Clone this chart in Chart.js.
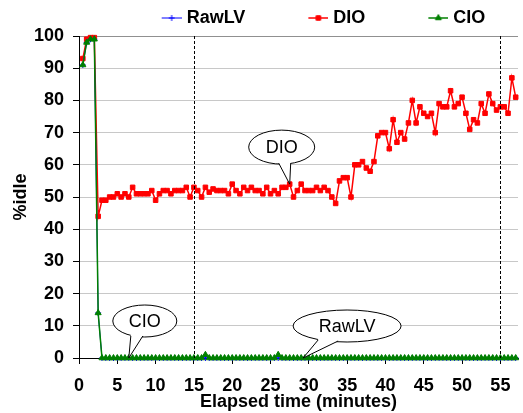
<!DOCTYPE html>
<html><head><meta charset="utf-8">
<script src="https://cdn.jsdelivr.net/npm/chart.js@4.4.1/dist/chart.umd.min.js"></script>
<style>html,body{margin:0;padding:0;background:#fff;}canvas{display:block}</style>
</head><body>
<canvas id="c" width="523" height="413"></canvas>
<script>
// ---- data ----
const elapsed = [0.5,1,1.5,2,2.5,
 3,3.5,4,4.5,5,5.5,6,6.5,7,7.5,
 8,8.5,9,9.5,10,10.5,11,11.5,12,12.5,
 13,13.5,14,14.5,15,15.5,16,16.5,17,17.5,
 18,18.5,19,19.5,20,20.5,21,21.5,22,22.5,
 23,23.5,24,24.5,25,25.5,26,26.5,27,27.5,
 28,28.5,29,29.5,30,30.5,31,31.5,32,32.5,
 33,33.5,34,34.5,35,35.5,36,36.5,37,37.5,
 38,38.5,39,39.5,40,40.5,41,41.5,42,42.5,
 43,43.5,44,44.5,45,45.5,46,46.5,47,47.5,
 48,48.5,49,49.5,50,50.5,51,51.5,52,52.5,
 53,53.5,54,54.5,55,55.5,56,56.5,57];
const rawLV = [91,98,99,99,14,
 0,0,0,0,0,0,0,0,0,0,
 0,0,0,0,0,0,0,0,0,0,
 0,0,0,0,0,0,0,0,0,0,
 0,0,0,0,0,0,0,0,0,0,
 0,0,0,0,0,0,0,0,0,0,
 0,0,0,0,0,0,0,0,0,0,
 0,0,0,0,0,0,0,0,0,0,
 0,0,0,0,0,0,0,0,0,0,
 0,0,0,0,0,0,0,0,0,0,
 0,0,0,0,0,0,0,0,0,0,
 0,0,0,0,0,0,0,0,0];
const dio = [93,99,99.5,99.5,44,
 49,49,50,50,51,50,51,50,53,51,
 51,51,51,52,49,51,52,52,51,52,
 52,52,53,50,53,52,50,53,51.5,52.5,
 52,52,52,51,54,52,51,53,52,53,
 52,52,51,53,51,52,51,53,53,54,
 50,52,54,52,52,52,53,52,53,52,
 50,48,55,56,56,50,60,60,61,59,
 58,61,69,70,70,65,74,67,70,68,
 73,80,73,78,76,75,76,70,79,78,
 78,83,78,79,81,76,71,74,73,79,
 76,82,79,77,78,78,76,87,81];
const cio = [91,98,99,99,14,
 0,0,0,0,0,0,0,0,0,0,
 0,0,0,0,0,0,0,0,0,0,
 0,0,0,0,0,0,0,1,0,0,
 0,0,0,0,0,0,0,0,0,0,
 0,0,0,0,0,0,1,0,0,0,
 0,0,0,0,0,0,0,0,0,0,
 0,0,0,0,0,0,0,0,0,0,
 0,0,0,0,0,0,0,0,0,0,
 0,0,0,0,0,0,0,0,0,0,
 0,0,0,0,0,0,0,0,0,0,
 0,0,0,0,0,0,0,0,0];
const seriesNames = ['RawLV','DIO','CIO'];
const xTickValues = [0,5,10,15,20,25,30,35,40,45,50,55];
const yTickValues = [0,10,20,30,40,50,60,70,80,90,100];
const dashedAt = [15,55];
const calloutLabels = ['DIO','CIO','RawLV'];
const calloutTips = [[27.5,54],[6.5,0],[29.25,0]];

// ---- styles ----
const FONT = 'Liberation Sans, Arial, sans-serif';
const styles = [
  {color:'#0000ff', pointStyle:'cross', radius:3, lineWidth:1},
  {color:'#ff0000', pointStyle:'rect', radius:3.2, lineWidth:1.5},
  {color:'#008000', pointStyle:'triangle', radius:3.5, lineWidth:1.5}
];
const drawOrder = [1,2,0]; // CIO on top, then RawLV, then DIO
const calloutShapes = [
  {dx:-8, dy:-37, rx:33, ry:17, b1:[-11,-21], b2:[1,-21]},
  {dx:16, dy:-37, rx:32, ry:16, b1:[2,-22], b2:[14,-22]},
  {dx:44, dy:-32, rx:54, ry:16, b1:[15,-18], b2:[35,-17]}
];
const LEG_BOX = 72, LEG_PAD = 7;

function makeIcon(st){
  const c = document.createElement('canvas');
  c.width = LEG_BOX + 8; c.height = 12;
  const g = c.getContext('2d');
  g.strokeStyle = st.color; g.fillStyle = st.color; g.lineWidth = st.lineWidth;
  g.beginPath(); g.moveTo(c.width-20, 6); g.lineTo(c.width, 6); g.stroke();
  g.lineWidth = 1;
  Chart.helpers.drawPoint(g, {pointStyle: st.pointStyle, radius: st.radius, rotation:0, borderWidth:1}, c.width-10, 6);
  return c;
}
const icons = styles.map(makeIcon);

const datasetsSrc = [rawLV, dio, cio];
const datasets = datasetsSrc.map((arr, i) => ({
  label: seriesNames[i],
  data: elapsed.map((t, k) => ({x: t, y: arr[k]})),
  borderColor: styles[i].color,
  backgroundColor: styles[i].color,
  borderWidth: styles[i].lineWidth,
  pointStyle: styles[i].pointStyle,
  pointRadius: styles[i].radius,
  pointBorderWidth: 1,
  pointBorderColor: styles[i].color,
  pointBackgroundColor: styles[i].color,
  tension: 0,
  clip: false,
  order: drawOrder[i]
}));

const dashedPlugin = {
  id: 'dashedLines',
  afterDatasetsDraw(chart){
    const {ctx, chartArea, scales:{x}} = chart;
    ctx.save();
    ctx.strokeStyle = '#000'; ctx.lineWidth = 1; ctx.setLineDash([3,2]);
    dashedAt.forEach(v => {
      const px = Math.round(x.getPixelForValue(v)) + 0.5;
      ctx.beginPath(); ctx.moveTo(px, chartArea.top); ctx.lineTo(px, chartArea.bottom); ctx.stroke();
    });
    ctx.restore();
  }
};

const calloutPlugin = {
  id: 'callouts',
  afterDatasetsDraw(chart){
    const {ctx, scales:{x, y}} = chart;
    calloutLabels.forEach((txt, i) => {
      const tx = x.getPixelForValue(calloutTips[i][0]);
      const ty = y.getPixelForValue(calloutTips[i][1]);
      const g = calloutShapes[i];
      const cx = tx + g.dx, cy = ty + g.dy;
      ctx.save();
      ctx.lineWidth = 1; ctx.strokeStyle = '#000'; ctx.fillStyle = '#fff'; ctx.setLineDash([]);
      ctx.beginPath(); ctx.ellipse(cx, cy, g.rx, g.ry, 0, 0, Math.PI*2); ctx.fill(); ctx.stroke();
      const b1x = tx + g.b1[0], b1y = ty + g.b1[1], b2x = tx + g.b2[0], b2y = ty + g.b2[1];
      ctx.beginPath(); ctx.moveTo(b1x, b1y - 3); ctx.lineTo(b1x, b1y); ctx.lineTo(tx, ty);
      ctx.lineTo(b2x, b2y); ctx.lineTo(b2x, b2y - 3); ctx.closePath(); ctx.fill();
      ctx.beginPath(); ctx.moveTo(b1x, b1y); ctx.lineTo(tx, ty); ctx.lineTo(b2x, b2y); ctx.stroke();
      ctx.fillStyle = '#000'; ctx.font = '18px ' + FONT; ctx.textAlign = 'center'; ctx.textBaseline = 'middle';
      ctx.fillText(txt, cx, cy + 1);
      ctx.restore();
    });
  }
};

const legendShift = {
  id: 'legendShift',
  afterLayout(chart){ chart.legend.left -= 3; chart.legend.right -= 3; chart.legend.top += 1; chart.legend.bottom += 1; }
};

new Chart(document.getElementById('c'), {
  type: 'line',
  data: { datasets },
  options: {
    responsive: false,
    animation: false,
    devicePixelRatio: 1,
    layout: { padding: {left:0, right:0, top:1, bottom:0} },
    plugins: {
      tooltip: {enabled:false},
      legend: {
        position: 'top',
        fullSize: false,
        labels: {
          usePointStyle: true,
          pointStyleWidth: LEG_BOX,
          padding: LEG_PAD,
          color: '#000',
          font: {family: FONT, size: 18, weight: 'bold'},
          generateLabels: (chart) => chart.data.datasets.map((ds, i) => ({
            text: ds.label, pointStyle: icons[i], fillStyle: styles[i].color,
            strokeStyle: styles[i].color, lineWidth: 0, hidden: false, datasetIndex: i, fontColor:'#000'
          }))
        }
      }
    },
    scales: {
      x: {
        type: 'linear', min: 0, max: 57.3,
        afterBuildTicks: (s) => { s.ticks = xTickValues.map(v => ({value: v})); },
        afterFit: (s) => { s.height = 55; },
        grid: {drawOnChartArea: false, drawTicks: true, tickLength: 6, tickColor: '#000'},
        border: {color: '#000', width: 1},
        ticks: {color: '#000', padding: 11, maxRotation: 0, autoSkip: false, font: {family: FONT, size: 18, weight: 'bold'}},
        title: {display: true, text: 'Elapsed time (minutes)', color: '#000', padding: {top: 0, bottom: 0}, font: {family: FONT, size: 18, weight: 'bold'}}
      },
      y: {
        min: 0, max: 100,
        afterBuildTicks: (s) => { s.ticks = yTickValues.map(v => ({value: v})); },
        afterFit: (s) => { s.width = 79; },
        grid: {color: (c) => c.tick && c.tick.value === 100 ? '#909090' : '#c8c8c8', drawTicks: true, tickLength: 6, tickColor: '#000'},
        border: {color: '#000', width: 1},
        ticks: {color: '#000', padding: 9, font: {family: FONT, size: 18, weight: 'bold'}},
        title: {display: true, text: '%idle', color: '#000', padding: {top: 10, bottom: 0}, font: {family: FONT, size: 18, weight: 'bold'}}
      }
    }
  },
  plugins: [dashedPlugin, calloutPlugin, legendShift]
});
</script>
</body></html>
